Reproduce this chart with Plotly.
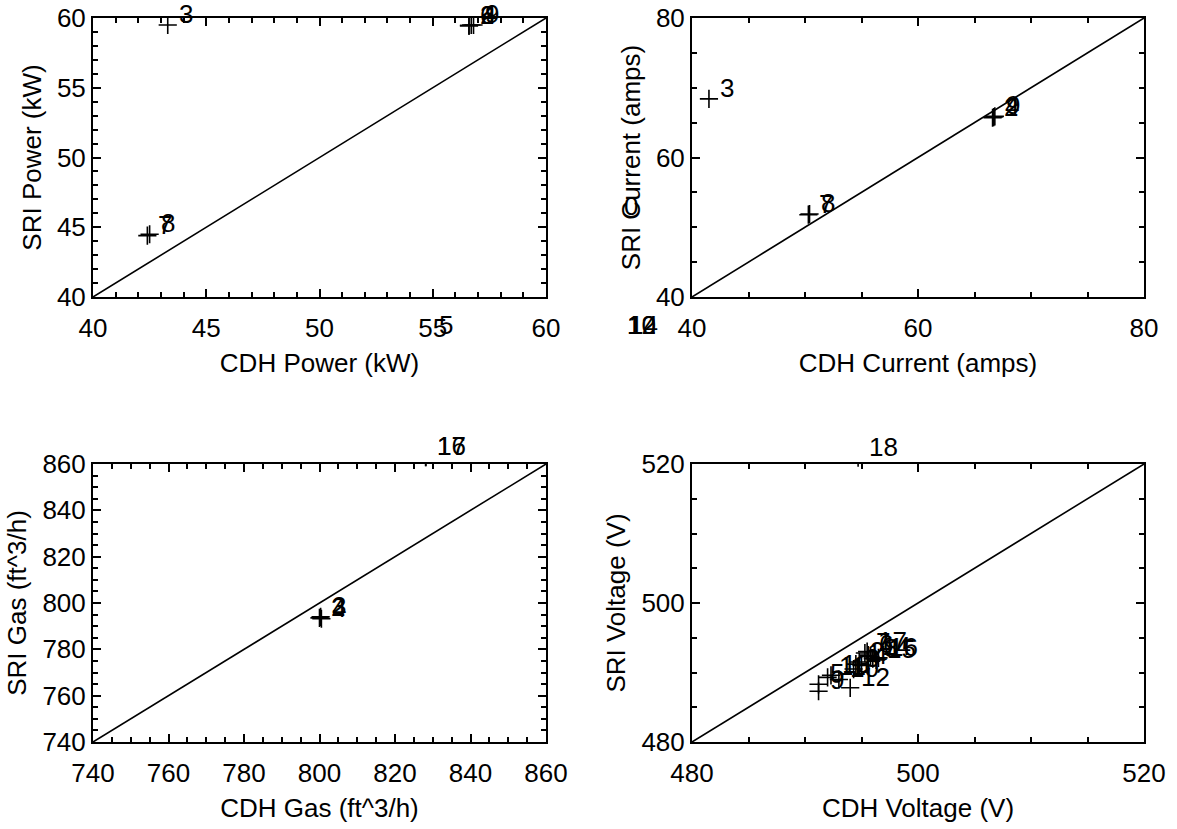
import plotly.graph_objects as go

# ---- data (CDH vs SRI readings, numbered points) ----
power_lbl = ["3", "7", "8", "2", "4", "6", "9", "5", "10", "12", "14"]
power_cdh = [43.3, 42.4, 42.5, 56.6, 56.7, 56.6, 56.8, 54.8, 63.1, 63.1, 63.2]
power_sri = [59.5, 44.4, 44.5, 59.45, 59.5, 59.45, 59.5, 37.2, 37.2, 37.2, 37.2]

current_lbl = ["3", "7", "8", "2", "4", "9", "0"]
current_cdh = [41.5, 50.3, 50.4, 66.6, 66.7, 66.8, 33.0]
current_sri = [68.4, 51.8, 51.9, 65.7, 65.8, 65.9, 51.5]

gas_lbl = ["2", "3", "4", "16", "17"]
gas_cdh = [800.0, 800.3, 800.5, 828.1, 828.2]
gas_sri = [793.6, 794.0, 793.2, 863.0, 863.0]

volt_lbl = ["5", "9", "11", "13", "10", "12", "1", "2", "4", "6", "7", "8",
            "14", "15", "16", "17", "3", "18"]
volt_cdh = [491.2, 491.2, 492.0, 492.3, 493.0, 494.0, 494.5, 494.8, 495.0, 495.6,
            495.3, 496.0, 495.8, 496.3, 496.5, 495.5, 494.3, 494.7]
volt_sri = [488.3, 487.3, 489.3, 489.6, 489.0, 487.8, 491.2, 491.5, 491.0, 492.5,
            492.8, 492.0, 492.3, 491.8, 492.1, 493.0, 490.5, 520.9]

panels = [
    ("CDH Power (kW)", "SRI Power (kW)", [40, 60], 5, 1, power_cdh, power_sri, power_lbl),
    ("CDH Current (amps)", "SRI Current (amps)", [40, 80], 20, 5, current_cdh, current_sri, current_lbl),
    ("CDH Gas (ft^3/h)", "SRI Gas (ft^3/h)", [740, 860], 20, 5, gas_cdh, gas_sri, gas_lbl),
    ("CDH Voltage (V)", "SRI Voltage (V)", [480, 520], 20, 5, volt_cdh, volt_sri, volt_lbl),
]

W, H = 1177, 829
boxes = [(93, 546, 18, 297), (692, 1144, 18, 297),
         (93, 546, 464, 742), (692, 1144, 464, 742)]

FONT = "Liberation Sans, Arial, Helvetica, sans-serif"
FS = 26

fig = go.Figure()
annots = []

for i, (xt, yt, rng, dt, mdt, xs, ys, lbls) in enumerate(panels):
    n = "" if i == 0 else str(i + 1)
    xa, ya = "x" + n, "y" + n
    xo, yo = "x" + str(i + 5), "y" + str(i + 5)   # full-page twin axes for labels

    x0, x1, y0, y1 = boxes[i]
    dx = [x0 / W, x1 / W]
    dy = [1 - y1 / H, 1 - y0 / H]

    # diagonal y = x
    fig.add_trace(go.Scatter(x=rng, y=rng, mode="lines", xaxis=xa, yaxis=ya,
                             line=dict(color="black", width=1.6), hoverinfo="skip"))
    # plus symbols (clipped by the box)
    fig.add_trace(go.Scatter(x=xs, y=ys, mode="markers", xaxis=xa, yaxis=ya,
                             marker=dict(symbol="cross-thin", size=13, color="black",
                                         line=dict(color="black", width=1.6))))
    # point numbers, drawn like xyouts (not clipped) via the twin axes
    for x, y, s in zip(xs, ys, lbls):
        annots.append(dict(x=x, y=y, xref=xo, yref=yo, text=s, showarrow=False,
                           xanchor="left", yanchor="bottom", xshift=9, yshift=-6,
                           font=dict(family=FONT, size=FS, color="black")))

    common = dict(showline=True, linecolor="black", linewidth=2, mirror="ticks",
                  ticks="inside", ticklen=8, tickwidth=1.5, tickcolor="black",
                  showgrid=False, zeroline=False, range=rng, dtick=dt, tick0=rng[0],
                  automargin=False, ticklabeloverflow="allow",
                  tickfont=dict(family=FONT, size=FS, color="black"),
                  minor=dict(ticks="inside", ticklen=5, tickwidth=1.5,
                             tickcolor="black", dtick=mdt, showgrid=False))
    fig.layout["xaxis" + n] = dict(common, domain=dx, anchor=ya,
                                   ticklabelstandoff=7,
                                   title=dict(text=xt, standoff=12,
                                              font=dict(family=FONT, size=FS, color="black")))
    fig.layout["yaxis" + n] = dict(common, domain=dy, anchor=xa,
                                   ticklabelstandoff=0,
                                   title=dict(text=yt, standoff=8,
                                              font=dict(family=FONT, size=FS, color="black")))

    # twin axes spanning the whole page with the same data-to-pixel scale
    span_x = (rng[1] - rng[0]) / (dx[1] - dx[0])
    span_y = (rng[1] - rng[0]) / (dy[1] - dy[0])
    fig.layout["xaxis" + str(i + 5)] = dict(domain=[0, 1], anchor=yo, visible=False,
                                            range=[rng[0] - dx[0] * span_x,
                                                   rng[1] + (1 - dx[1]) * span_x])
    fig.layout["yaxis" + str(i + 5)] = dict(domain=[0, 1], anchor=xo, visible=False,
                                            range=[rng[0] - dy[0] * span_y,
                                                   rng[1] + (1 - dy[1]) * span_y])

fig.update_layout(width=W, height=H, margin=dict(l=0, r=0, t=0, b=0),
                  paper_bgcolor="white", plot_bgcolor="rgba(0,0,0,0)",
                  showlegend=False, annotations=annots)

# drop the page's default 8px body margin so the figure sits at the corner
fig.write_html("out.html", config={"displayModeBar": False},
               post_script="document.body.style.margin='0px';")
